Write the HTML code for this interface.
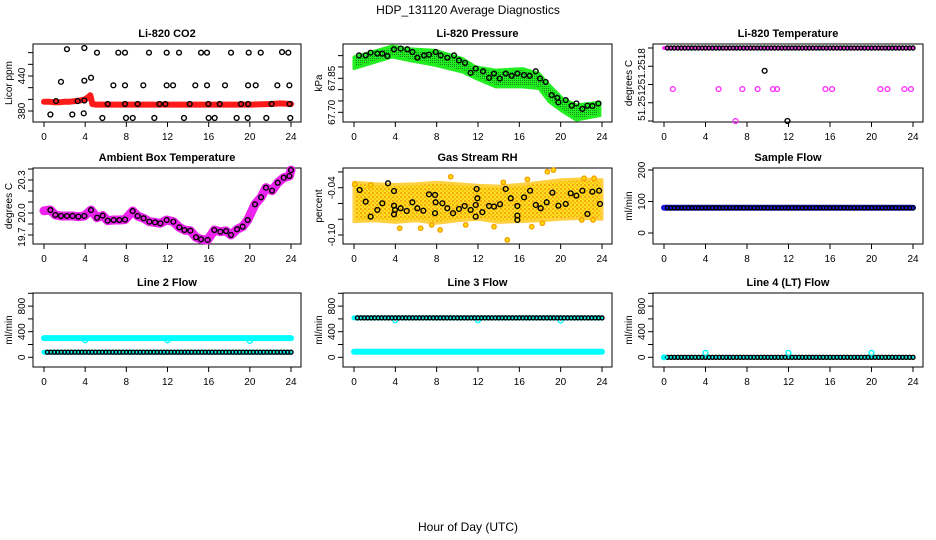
<!DOCTYPE html>
<html><head><meta charset="utf-8"><style>
body{margin:0;background:#fff;}
svg{display:block;font-family:"Liberation Sans",sans-serif;}
.ttl{font-size:11px;font-weight:bold;text-anchor:middle;}
.tk{font-size:10px;text-anchor:middle;}
</style></head><body>
<svg id="chart" width="936" height="540" viewBox="0 0 936 540" xmlns="http://www.w3.org/2000/svg">
<defs>
<pattern id="rhpat" width="4" height="4" patternUnits="userSpaceOnUse"><rect width="4" height="4" fill="#ffe020"/><circle cx="1" cy="1" r="0.9" fill="#f08000"/><circle cx="3" cy="3" r="0.7" fill="#f09000"/></pattern>
<pattern id="grpat" width="2" height="2" patternUnits="userSpaceOnUse"><rect width="2" height="2" fill="#22ee22"/><rect width="1" height="1" fill="#118811"/></pattern>
</defs>
<text x="468" y="14" font-size="12" text-anchor="middle">HDP_131120  Average Diagnostics</text>
<text x="468" y="531" font-size="12" text-anchor="middle">Hour of Day (UTC)</text>
<g id="plots"></g>
</svg>
<script>
// ---- data ----
const xTicks = [0,4,8,12,16,20,24];
// CO2
const co2BandHours = [0,0.5,1,1.5,2,2.5,3,3.5,4,4.3,4.5,4.7,5,6,8,10,12,14,16,18,20,22,23,24];
const co2BandVals  = [396,396,395,395,396,396,397,398,400,404,407,392,391,391,391,391,391,391,391,391,391,392,393,392];
const co2PtHours = [2.23,3.92,5.15,7.22,7.87,10.2,11.92,13.12,15.26,15.84,18.17,19.89,21.06,23.13,23.74,
 6.74,7.87,9.65,11.92,12.54,14.7,15.84,17.59,19.83,20.57,22.67,23.84,1.65,3.92,4.57,1.17,3.27,3.92,
 6.19,7.87,9.1,11.21,11.79,14.16,15.97,17.07,19.14,19.83,22.12,23.87,
 0.62,2.75,3.86,5.67,7.97,8.62,10.72,13.6,16.0,16.58,18.72,19.79,21.6,23.93];
const co2PtVals = [486,488,480,480,480,480,480,480,480,480,480,480,480,481,480,
 424,424,424,424,424,424,424,424,424,424,424,424,430,432,437,397,397,398,
 392,392,392,392,392,392,392,392,392,392,392,392,
 374,374,376,368,368,368,368,368,368,368,368,368,368,368];
const co2Ticks = [380,400,420,440,460,480];
const co2Labels = [380,440];
// Pressure
const presHours = [0,3.7,5.3,7.9,10.5,11.8,13.7,16.3,17.9,18.9,20.2,21.5,23.8];
const presUpper = [67.944,67.992,67.98,67.973,67.937,67.90,67.886,67.893,67.871,67.82,67.761,67.732,67.744];
const presLower = [67.893,67.944,67.929,67.907,67.878,67.849,67.812,67.812,67.805,67.746,67.703,67.666,67.685];
const presPtHours = [0.48,1.13,1.61,2.26,2.74,3.23,3.87,4.52,5.16,5.65,6.13,6.78,7.26,7.91,8.39,9.03,9.68,10.16,10.74,11.29,11.78,12.49,13.07,13.55,14.1,14.68,15.26,15.81,16.45,17.0,17.59,18.0,18.55,19.13,19.68,19.78,20.49,21.07,21.52,22.1,22.59,23.07,23.65];
const presPtVals = [67.951,67.951,67.963,67.959,67.959,67.948,67.978,67.981,67.978,67.966,67.941,67.951,67.954,67.966,67.951,67.941,67.951,67.929,67.918,67.874,67.893,67.881,67.852,67.871,67.849,67.871,67.861,67.871,67.864,67.861,67.881,67.849,67.834,67.776,67.764,67.744,67.754,67.729,67.739,67.715,67.729,67.728,67.739];
const presTicks = [67.70,67.75,67.80,67.85,67.90,67.95];
const presLabels = [67.70,67.85];
// Li-820 temperature
const tempTopLevel = [51.2518];
const tempMagHours = [0.85,5.26,7.55,9.02,10.5,10.9,15.56,16.2,20.85,21.54,23.17,23.8,6.9];
const tempMagVals  = [51.25135,51.25135,51.25135,51.25135,51.25135,51.25135,51.25135,51.25135,51.25135,51.25135,51.25135,51.25135,51.2510];
const tempBlkHours = [11.9,9.7];
const tempBlkVals  = [51.2510,51.25155];
const tempTicks = [51.2510,51.2512,51.2514,51.2516,51.2518];
const tempLabels = [51.2512,51.2516];
// Ambient box temperature
const ambHours = [0,0.62,1.1,1.65,2.23,2.78,3.34,3.92,4.57,5.15,5.7,6.19,6.77,7.32,7.87,8.62,9.1,9.68,10.24,10.79,11.31,11.92,12.57,13.15,13.64,14.22,14.77,15.26,15.9,16.55,17.14,17.69,18.17,18.76,19.3,19.79,20.5,21.09,21.57,22.16,22.71,23.29,23.84,24.0];
const ambVals  = [20.02,20.027,19.982,19.973,19.973,19.973,19.967,19.973,20.027,19.957,19.976,19.93,19.936,19.936,19.94,20.018,19.973,19.952,19.921,19.915,19.906,19.936,19.921,19.87,19.845,19.839,19.779,19.761,19.755,19.845,19.83,19.836,19.80,19.852,19.876,19.936,20.079,20.143,20.23,20.203,20.275,20.321,20.336,20.39];
const ambTicks = [19.8,19.9,20.0,20.1,20.2,20.3,20.4];
const ambLabels = [20.0,20.3];
// Gas stream RH
const rhBandHours = [0,2,4,6,8,10,12,14,16,18,20,22,24];
const rhUpper = [-0.033,-0.035,-0.036,-0.035,-0.033,-0.035,-0.037,-0.038,-0.036,-0.033,-0.030,-0.029,-0.030];
const rhLower = [-0.083,-0.082,-0.084,-0.082,-0.085,-0.082,-0.080,-0.084,-0.083,-0.082,-0.080,-0.079,-0.080];
const rhOutHours = [0.06,1.61,4.42,6.45,7.52,8.33,9.36,10.81,13.55,14.45,14.84,16.78,17.2,18.23,18.71,19.3,22.04,22.27,23.14,23.23];
const rhOutVals  = [-0.0357,-0.0366,-0.0914,-0.0914,-0.0872,-0.0936,-0.0261,-0.0872,-0.0894,-0.0332,-0.1062,-0.0294,-0.0894,-0.0851,-0.0197,-0.0176,-0.0809,-0.0281,-0.0809,-0.0281];
const rhPtHours = [0.55,1.13,1.61,2.26,2.74,3.29,3.87,3.87,3.87,3.97,4.52,5.1,5.65,6.13,6.71,7.26,7.84,7.9,7.84,8.55,9.03,9.58,10.16,10.71,11.29,11.78,11.87,11.94,11.78,12.42,13.07,13.55,14.13,14.68,15.17,15.81,15.81,15.81,16.46,17.04,17.59,18.07,18.65,19.2,19.78,20.49,20.97,21.52,22.1,22.59,23.07,23.72,23.81];
const rhPtVals = [-0.0429,-0.0577,-0.0767,-0.0682,-0.0598,-0.0344,-0.0442,-0.0628,-0.0737,-0.0682,-0.0661,-0.0695,-0.0585,-0.0661,-0.0692,-0.0484,-0.0492,-0.0585,-0.0724,-0.0598,-0.0661,-0.0724,-0.067,-0.0632,-0.0682,-0.0767,-0.0416,-0.0534,-0.0619,-0.0711,-0.0632,-0.064,-0.061,-0.0416,-0.0534,-0.0632,-0.0754,-0.0809,-0.0522,-0.0438,-0.0619,-0.0661,-0.0585,-0.0463,-0.0628,-0.0606,-0.0471,-0.0501,-0.0438,-0.0733,-0.0451,-0.0438,-0.0606];
const rhTicks = [-0.10,-0.08,-0.06,-0.04,-0.02];
const rhLabels = [-0.10,-0.04];
// Flows
const sampleLevel = [80];
const sampleTicks = [0,100,200];
const line2Upper = [300];
const line2Lower = [80];
const line2DipHours = [4,12,20];
const line2DipVals = [265,265,255];
const line3Upper = [616];
const line3Lower = [87];
const line3DipHours = [4,12,20];
const line3DipVals = [580,580,575];
const line4Level = [0];
const line4BumpHours = [0,4,12,20];
const line4BumpVals = [0,70,70,70];
const flowTicks = [0,200,400,600,800,1000];
const flowLabels = [0,400,800];

// ---- drawing ----
const NS = "http://www.w3.org/2000/svg";
const root = document.getElementById('plots');
const colL=[33,343,653], colR=[301,612,923], rowT=[44,168,293], rowB=[122,244,367];
function mk(tag, attrs, parent){const e=document.createElementNS(NS,tag);for(const k in attrs)e.setAttribute(k,attrs[k]);(parent||root).appendChild(e);return e;}
function fmt(v){return String(v);}
function panel(c,r,title,ylab,yv0,yp0,yv1,yp1,ticks,labels,labelText,labelSize){
  const g=mk('g',{});
  
  
  const L=colL[c],R=colR[c],T=rowT[r],B=rowB[r];
  const x0=L+11, x1=R-10;
  const X=h=>x0+(x1-x0)*h/24;
  const Y=v=>yp0+(v-yv0)*(yp1-yp0)/(yv1-yv0);
  const t=mk('text',{x:(L+R)/2,y:T-7,class:'ttl'},g);t.textContent=title;
  
  
  const box=mk('rect',{x:L,y:T,width:R-L,height:B-T,fill:'none',stroke:'#000','stroke-width':1},g);
  
  
  const xa=mk('g',{},g);
  
  
  mk('line',{x1:X(0),x2:X(24),y1:B,y2:B,stroke:'#000'},xa);
  xTicks.forEach(h=>{mk('line',{x1:X(h),x2:X(h),y1:B,y2:B+5,stroke:'#000'},xa);
    const tt=mk('text',{x:X(h),y:B+18,class:'tk'},xa);tt.textContent=h;
    
    });
  const ya=mk('g',{},g);
  
  
  ticks.forEach(v=>{mk('line',{x1:L-5,x2:L,y1:Y(v),y2:Y(v),stroke:'#000'},ya);});
  labels.forEach((v,i)=>{const tt=mk('text',{x:0,y:0,class:'tk',transform:`translate(${L-8},${Y(v)}) rotate(-90)`},ya);
    if(labelSize)tt.setAttribute('font-size',labelSize);
    tt.textContent=labelText?labelText[i]:fmt(v);
    
    });
  const yl=mk('text',{x:0,y:0,'font-size':10,'text-anchor':'middle',transform:`translate(${L-21},${(T+B)/2}) rotate(-90)`},ya);
  yl.textContent=ylab;
  
  
  const d=mk('g',{},g);
  
  
  return {X,Y,g:d,L,R,T,B};
}
function pathOf(P,hs,vs){return hs.map((h,i)=>(i?'L':'M')+P.X(h).toFixed(1)+','+P.Y(vs[i]).toFixed(1)).join('');}
function circ(P,h,v,col,name,r){const e=mk('circle',{cx:P.X(h),cy:P.Y(v),r:r||2.4,fill:'none',stroke:col,'stroke-width':1.4},P.g);
  
  return e;}
function band(P,hs,vs,col,w,name){const e=mk('path',{d:pathOf(P,hs,vs),fill:'none',stroke:col,'stroke-width':w,'stroke-linejoin':'round','stroke-linecap':'round'},P.g);
  
  return e;}
function area(P,hs,up,lo,fill,edge,name){const d=pathOf(P,hs,up)+hs.slice().reverse().map((h,i)=>'L'+P.X(h).toFixed(1)+','+P.Y(lo[lo.length-1-i]).toFixed(1)).join('')+'Z';
  const e=mk('path',{d,fill,stroke:edge,'stroke-width':3,'stroke-linejoin':'round'},P.g);
  
  return e;}
// observation times for the regular flow/temperature samples (every 20 min)
const obsHours=[];for(let i=1;i<=72;i++)obsHours.push(i/3);

// Panel 1 CO2
let P=panel(0,0,'Li-820 CO2','Licor ppm',380,111,440,76,co2Ticks,co2Labels);
band(P,co2BandHours,co2BandVals,'#ff1a1a',6,'co2-band');
co2PtHours.forEach((h,i)=>circ(P,h,co2PtVals[i],'#000','co2-point'));
// Panel 2 Pressure
P=panel(1,0,'Li-820 Pressure','kPa',67.70,112.3,67.85,78.3,presTicks,presLabels,['67.70','67.85']);
area(P,presHours,presUpper,presLower,'url(#grpat)','#22ee22','pressure-band');
presPtHours.forEach((h,i)=>circ(P,h,presPtVals[i],'#000','pressure-point'));
// Panel 3 Temp
P=panel(2,0,'Li-820 Temperature','degrees C',51.2510,121,51.2518,48,tempTicks,tempLabels,['51.2512','51.2518'],9);
band(P,[0,24],[tempTopLevel[0],tempTopLevel[0]],'#ff33ff',4,'temp-band');
obsHours.forEach(h=>circ(P,h,tempTopLevel[0],'#000','temp-point',2));
tempMagHours.forEach((h,i)=>circ(P,h,tempMagVals[i],'#ff33ff','temp-outlier'));
tempBlkHours.forEach((h,i)=>circ(P,h,tempBlkVals[i],'#000','temp-outlier'));
// Panel 4 Ambient
P=panel(0,1,'Ambient Box Temperature','degrees C',20.0,213,20.3,180,ambTicks,ambLabels,['20.0','20.3']);
{const e=mk('text',{x:0,y:0,class:'tk',transform:`translate(25,237) rotate(-90)`},P.g.parentNode);e.textContent='19.7';
 
 }
band(P,ambHours,ambVals,'#ee22ee',9,'ambient-band');
ambHours.forEach((h,i)=>{if(i>0)circ(P,h,ambVals[i],'#000','ambient-point');});
// Panel 5 RH
P=panel(1,1,'Gas Stream RH','percent',-0.04,187.7,-0.10,235,rhTicks,rhLabels,['-0.10','-0.04']);
area(P,rhBandHours,rhUpper,rhLower,'url(#rhpat)','#ffd040','rh-band');
rhOutHours.forEach((h,i)=>{const e=circ(P,h,rhOutVals[i],'#f5a000','rh-outlier',2.2);e.setAttribute('fill','#ffe000');});
rhPtHours.forEach((h,i)=>circ(P,h,rhPtVals[i],'#000','rh-point'));
// Panel 6 Sample flow
P=panel(2,1,'Sample Flow','ml/min',0,233,200,170,sampleTicks,sampleTicks);
band(P,[0,24],[sampleLevel[0],sampleLevel[0]],'#1a1aee',6,'sample-band');
obsHours.forEach(h=>circ(P,h,sampleLevel[0],'#000','sample-point',2));
// Panel 7 Line 2
P=panel(0,2,'Line 2 Flow','ml/min',0,357.3,400,331.7,flowTicks,flowLabels);
band(P,[0,24],[line2Upper[0],line2Upper[0]],'#00ffff',6,'line2-upper-band');
band(P,[0,24],[line2Lower[0],line2Lower[0]],'#00ffff',5,'line2-lower-band');
line2DipHours.forEach((h,i)=>circ(P,h,line2DipVals[i],'#00ffff','line2-dip'));
obsHours.forEach(h=>circ(P,h,line2Lower[0],'#000','line2-point',2));
// Panel 8 Line 3
P=panel(1,2,'Line 3 Flow','ml/min',0,357.3,400,331.7,flowTicks,flowLabels);
band(P,[0,24],[line3Lower[0],line3Lower[0]],'#00ffff',6,'line3-lower-band');
band(P,[0,24],[line3Upper[0],line3Upper[0]],'#00ffff',5,'line3-upper-band');
line3DipHours.forEach((h,i)=>circ(P,h,line3DipVals[i],'#00ffff','line3-dip'));
obsHours.forEach(h=>circ(P,h,line3Upper[0],'#000','line3-point',2));
// Panel 9 Line 4
P=panel(2,2,'Line 4 (LT) Flow','ml/min',0,357.3,400,331.7,flowTicks,flowLabels);
band(P,[0,24],[line4Level[0],line4Level[0]],'#00ffff',4,'line4-band');
obsHours.forEach(h=>circ(P,h,line4Level[0],'#000','line4-point',2));
line4BumpHours.forEach((h,i)=>circ(P,h,line4BumpVals[i],'#00ffff','line4-bump'));
</script>
</body></html>
